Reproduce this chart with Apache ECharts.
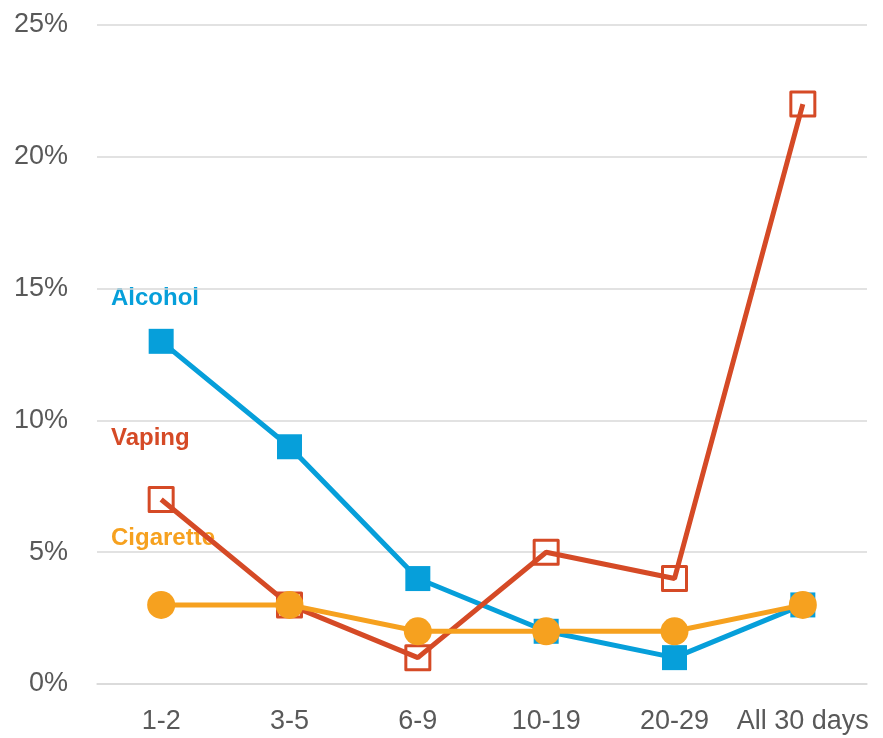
<!DOCTYPE html>
<html>
<head>
<meta charset="utf-8">
<script src="https://cdn.jsdelivr.net/npm/echarts@6/dist/echarts.min.js"></script>
<style>
  html, body { margin: 0; padding: 0; background: #fff; }
  #main { width: 883px; height: 738px; }
</style>
</head>
<body>
<div id="main"></div>
<script>
// 数据
var categories = ['1-2', '3-5', '6-9', '10-19', '20-29', 'All 30 days'];
var alcoholData = [13, 9, 4, 2, 1, 3];
var vapingData = [7, 3, 1, 5, 4, 22];
var cigaretteData = [3, 3, 2, 2, 2, 3];
var seriesNames = ['Alcohol', 'Vaping', 'Cigarette'];

var FONT = "'Liberation Sans', Arial, sans-serif";
var BLUE = '#069FDA';
var RED = '#D54A26';
var ORANGE = '#F6A11F';

var chart = echarts.init(document.getElementById('main'));

chart.setOption({
  animation: false,
  grid: {
    left: 97,
    right: 16,
    top: 25,
    bottom: 54
  },
  xAxis: {
    type: 'category',
    data: categories,
    axisTick: { show: false },
    axisLine: { lineStyle: { color: '#D9D9D9', width: 1.5 } },
    axisLabel: {
      color: '#595959',
      fontSize: 27,
      fontFamily: FONT,
      interval: 0,
      margin: 24
    }
  },
  yAxis: {
    type: 'value',
    min: 0,
    max: 25,
    interval: 5,
    axisLine: { show: false },
    axisTick: { show: false },
    splitLine: { lineStyle: { color: '#D9D9D9', width: 1.5 } },
    axisLabel: {
      color: '#595959',
      fontSize: 27,
      fontFamily: FONT,
      margin: 29,
      padding: [4, 0, 0, 0],
      formatter: '{value}%'
    }
  },
  graphic: [
    { type: 'text', left: 111, top: 286, style: { text: seriesNames[0], fill: BLUE, font: 'bold 24px ' + FONT } },
    { type: 'text', left: 111, top: 426, style: { text: seriesNames[1], fill: RED, font: 'bold 24px ' + FONT } },
    { type: 'text', left: 111, top: 526, style: { text: seriesNames[2], fill: ORANGE, font: 'bold 24px ' + FONT } }
  ],
  series: [
    {
      name: seriesNames[0],
      type: 'line',
      z: 2,
      data: alcoholData,
      symbol: 'rect',
      symbolSize: 25,
      lineStyle: { color: BLUE, width: 5 },
      itemStyle: { color: BLUE, borderWidth: 0 }
    },
    {
      name: seriesNames[1],
      type: 'line',
      z: 3,
      data: vapingData,
      symbol: 'rect',
      symbolSize: 24,
      lineStyle: { color: RED, width: 5 },
      itemStyle: { color: 'rgba(255,255,255,0)', borderColor: RED, borderWidth: 3, borderJoin: 'round' }
    },
    {
      name: seriesNames[2],
      type: 'line',
      z: 4,
      data: cigaretteData,
      symbol: 'circle',
      symbolSize: 28,
      lineStyle: { color: ORANGE, width: 5 },
      itemStyle: { color: ORANGE, borderWidth: 0 }
    }
  ]
});
</script>
</body>
</html>
